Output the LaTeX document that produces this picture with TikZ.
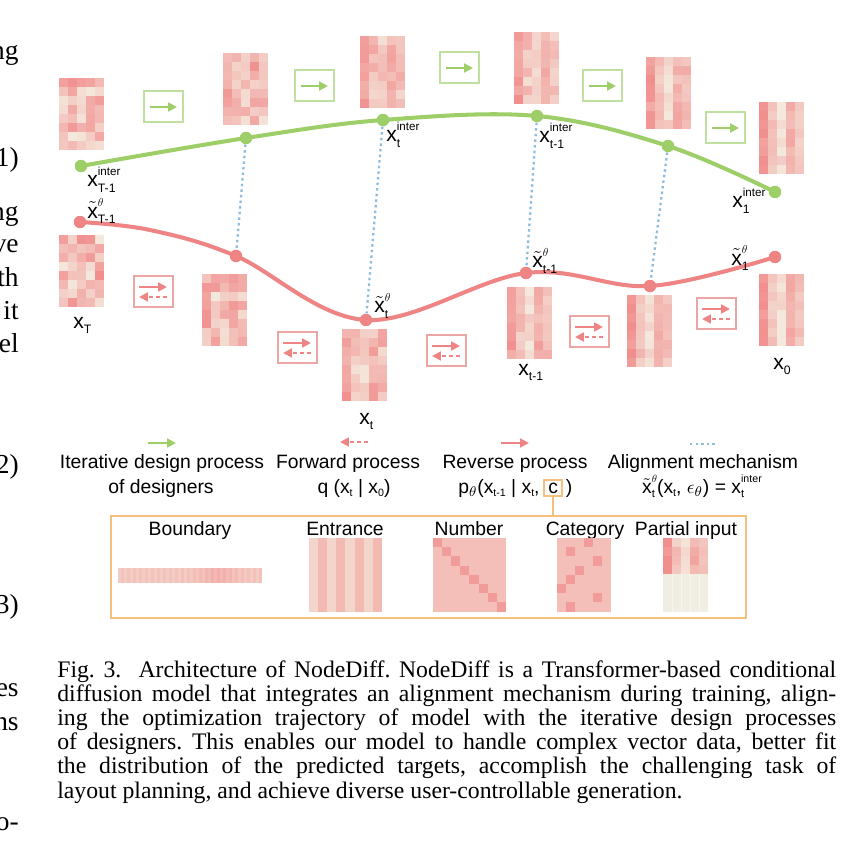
\documentclass[tikz,border=0pt]{standalone}
\usepackage{fontspec}
\setmainfont{Liberation Sans}
\newfontfamily\capfont{Liberation Serif}
\usepackage{amsmath}
\usepackage{graphicx}
\usetikzlibrary{arrows.meta, positioning}
\definecolor{Leaf}{RGB}{158,206,104}
\definecolor{LeafPale}{RGB}{192,224,160}
\definecolor{Salmon}{RGB}{238,132,132}
\definecolor{SalmonPale}{RGB}{236,165,165}
\definecolor{Sky}{RGB}{140,188,222}
\definecolor{Amber}{RGB}{245,192,125}
\definecolor{CellDark}{RGB}{241,142,142}
\definecolor{CellLight}{RGB}{244,231,219}
\definecolor{Cream}{RGB}{240,238,226}

% x con superindice y subindice apilados
\newsavebox{\supbox}
\newsavebox{\subbox}
\newcommand{\xsym}[3]{#1%
  \sbox{\supbox}{\scalebox{0.55}{#2}}\sbox{\subbox}{\scalebox{0.58}{#3}}%
  \ifdim\wd\supbox>\wd\subbox \wd\subbox=\wd\supbox\fi
  \rlap{\raisebox{1.0ex}{\usebox{\supbox}}}\raisebox{-0.45ex}{\usebox{\subbox}}}
\newcommand{\xtil}{$\tilde{\text{x}}$}
\newcommand{\lsub}[1]{\raisebox{-0.35ex}{\scalebox{0.55}{#1}}}

% matriz de celdas rosas: x, y (esquina superior izquierda), ruido, filas
\newcommand{\noisemat}[4]{%
  \foreach \cl in {0,...,4}{
    \foreach \rw in {1,...,#4}{
      \pgfmathsetmacro{\lv}{max(0,min(100,(1-#3)*{100,38,6,62,42}[\cl]+#3*rnd*100+(rnd-0.5)*30))}
      \fill[CellDark!\lv!CellLight] ({#1+9*\cl},{#2+9*(\rw-1)}) rectangle ++(9,9);
    }
  }
}
% caja del proceso iterativo (flecha verde)
\newcommand{\iterbox}[2]{%
  \draw[box_green] (#1,#2) rectangle ++(39,31);
  \draw[arr_green] ({#1+6},{#2+16}) -- ++(27,0);
}
% caja de ida y vuelta (flechas rojas)
\newcommand{\diffbox}[2]{%
  \draw[box_red] (#1,#2) rectangle ++(39,31);
  \draw[arr_red] ({#1+5},{#2+11}) -- ++(28,0);
  \draw[arr_red, dash pattern=on 2.5pt off 1.5pt] ({#1+33},{#2+21}) -- ++(-28,0);
}

\begin{document}
\begin{tikzpicture}[x=0.02cm, y=-0.02cm,
    traj_green/.style={draw=Leaf, line width=2.3pt, line cap=round},
    traj_red/.style={draw=Salmon, line width=2.3pt, line cap=round},
    dot_green/.style={circle, fill=Leaf, inner sep=0pt, minimum size=0.25cm},
    dot_red/.style={circle, fill=Salmon, inner sep=0pt, minimum size=0.25cm},
    align_line/.style={draw=Sky, line width=1.3pt, dash pattern=on 1.4pt off 1.8pt},
    box_green/.style={draw=LeafPale, line width=0.6pt},
    box_red/.style={draw=SalmonPale, line width=0.6pt},
    arr_green/.style={draw=Leaf, line width=1.2pt, -{Triangle[length=5pt, width=5pt]}},
    arr_red/.style={draw=Salmon, line width=1.1pt, -{Triangle[length=5pt, width=5pt]}},
    lab/.style={inner sep=0pt, anchor=base west, font=\fontsize{12}{13}\selectfont},
    legend_txt/.style={inner sep=0pt, anchor=base, font=\fontsize{11}{13}\selectfont},
    cfg_box/.style={draw=Amber, line width=1.1pt},
    frag/.style={inner sep=0pt, anchor=base east, font=\capfont\fontsize{15.6}{18}\selectfont}
  ]
  \useasboundingbox (0,0) rectangle (863,848);
  \pgfmathsetseed{11}

  % Matrices de la trayectoria superior (diseñadores)
  \noisemat{59}{78}{1}{8}
  \noisemat{223}{53}{0.55}{8}
  \noisemat{360}{36}{0.45}{8}
  \noisemat{514}{32}{0.35}{8}
  \noisemat{646}{57}{0.2}{8}
  \noisemat{759}{102}{0.1}{8}
  % Matrices de la trayectoria inferior (difusion)
  \noisemat{59}{235}{1}{8}
  \noisemat{202}{274}{0.8}{8}
  \noisemat{342}{329}{0.45}{8}
  \noisemat{507}{287}{0.3}{8}
  \noisemat{627}{295}{0.15}{8}
  \noisemat{759}{274}{0.05}{8}

  % Cajas con flechas
  \iterbox{144}{91}
  \iterbox{295}{70}
  \iterbox{440}{52}
  \iterbox{583}{70}
  \iterbox{706}{112}
  \diffbox{134}{276}
  \diffbox{278}{332}
  \diffbox{427}{335}
  \diffbox{570}{316}
  \diffbox{697}{298}

  % Trayectorias
  \coordinate (g1) at (81,166);
  \coordinate (g2) at (246,138);
  \coordinate (g3) at (383,120);
  \coordinate (g4) at (537,116);
  \coordinate (g5) at (668,146);
  \coordinate (g6) at (775,192);
  \coordinate (r1) at (80,222);
  \coordinate (rbend) at (150,230);
  \coordinate (r2) at (236,256);
  \coordinate (r3) at (366,320);
  \coordinate (r4) at (526,273);
  \coordinate (r5) at (650,286);
  \coordinate (r6) at (775,257);
  \draw[traj_green] plot[smooth, tension=0.6] coordinates {(g1) (g2) (g3) (g4) (g5) (g6)};
  \draw[traj_red] plot[smooth, tension=0.6] coordinates {(r1) (rbend) (r2) (r3) (r4) (r5) (r6)};
  \foreach \k in {1,...,6}{
    \node[dot_green] (gd\k) at (g\k) {};
    \node[dot_red] (rd\k) at (r\k) {};
  }
  % Mecanismo de alineamiento
  \foreach \k in {2,...,5}{
    \draw[align_line] (gd\k) -- (rd\k);
  }

  % Etiquetas de los estados
  \node[lab] (xi_T1) at (87,187) {\xsym{x}{inter}{T-1}};
  \node[lab] (xi_t) at (386,142) {\xsym{x}{inter}{t}};
  \node[lab] (xi_t1) at (539,143) {\xsym{x}{inter}{t-1}};
  \node[lab] (xi_1) at (732,208) {\xsym{x}{inter}{1}};
  \node[lab] (xs_T1) at (87,218) {\xsym{\xtil}{$\theta$}{T-1}};
  \node[lab] (xs_t) at (374,313) {\xsym{\xtil}{$\theta$}{t}};
  \node[lab] (xs_t1) at (532,268) {\xsym{\xtil}{$\theta$}{t-1}};
  \node[lab] (xs_1) at (731,265) {\xsym{\xtil}{$\theta$}{1}};
  \node[lab] (x_T) at (73,328) {\xsym{x}{}{T}};
  \node[lab] (x_t) at (359,424) {\xsym{x}{}{t}};
  \node[lab] (x_t1) at (518,375) {\xsym{x}{}{t-1}};
  \node[lab] (x_0) at (773,369) {\xsym{x}{}{0}};

  % Leyenda
  \draw[arr_green] (148,443) -- (176,443);
  \draw[arr_red, dash pattern=on 2.5pt off 1.5pt] (368,442) -- (340,442);
  \draw[arr_red] (501,443) -- (529,443);
  \draw[align_line] (690,444) -- (716,444);
  \node[legend_txt] (leg_iter) at (162,468) {Iterative design process};
  \node[legend_txt] (leg_iter2) at (161,493) {of designers};
  \node[legend_txt] (leg_fwd) at (348,468) {Forward process};
  \node[legend_txt] (leg_fwd2) at (354,493) {q (x\lsub{t} | x\lsub{0})};
  \node[legend_txt] (leg_rev) at (515,468) {Reverse process};
  \node[legend_txt, anchor=base west] (pth) at (458,493) {p$_\theta$(x\lsub{t-1} | x\lsub{t},};
  \node[draw=Amber, line width=1.1pt, inner xsep=2.2pt, inner ysep=1.6pt, font=\fontsize{11}{13}\selectfont, base right=2pt of pth] (cbox) {c};
  \node[legend_txt, base right=1.5pt of cbox] (rpar) {)};
  \node[legend_txt] (leg_align) at (703,468) {Alignment mechanism};
  \node[legend_txt] (leg_align2) at (702,493) {\xsym{\xtil}{$\theta$}{t}(x\lsub{t}, $\epsilon_\theta$) = \xsym{x}{inter}{t}};

  % Condiciones
  \node[cfg_box, minimum width=12.7cm, minimum height=2.04cm, anchor=north west] (cfg) at (110,515) {};
  \draw[cfg_box] (cbox.south) -- (cbox.south |- cfg.north);
  \node[legend_txt] (c_bound) at (190,535) {Boundary};
  \node[legend_txt] (c_ent) at (345,535) {Entrance};
  \node[legend_txt] (c_num) at (469,535) {Number};
  \node[legend_txt] (c_cat) at (585,535) {Category};
  \node[legend_txt] (c_part) at (686,535) {Partial input};
  % Boundary
  \foreach \k in {0,...,47}{
    \pgfmathsetmacro{\lv}{30+12*mod(\k,2)+22*exp(-((\k-33)/6)^2)}
    \fill[CellDark!\lv!CellLight] ({118+3*\k},568) rectangle ++(3,15);
  }
  % Entrance
  \foreach \k in {0,...,7}{
    \pgfmathsetmacro{\lv}{mod(\k,2)==0 ? 20 : 52}
    \fill[CellDark!\lv!CellLight] ({309+9.1*\k},538) rectangle ++(9.1,74);
  }
  % Number
  \fill[CellDark!45!CellLight] (433,538) rectangle ++(73,74);
  \foreach \k in {0,...,7}{
    \fill[CellDark!85!CellLight] ({433+9.1*\k},{538+9.2*\k}) rectangle ++(9.1,9.2);
  }
  % Category
  \fill[CellDark!45!CellLight] (557,538) rectangle ++(54,74);
  \foreach \cl/\rw in {3/0, 1/1, 4/2, 2/3, 1/4, 0/5, 4/6, 1/7}{
    \fill[CellDark!85!CellLight] ({557+9*\cl},{538+9.2*\rw}) rectangle ++(9,9.2);
  }
  % Partial input
  \noisemat{663}{538}{0.15}{4}
  \fill[Cream] (663,574) rectangle ++(45,38);
  \foreach \k in {1,...,4}{
    \draw[Cream!60!white, line width=0.3pt] ({663+9*\k},574) -- ++(0,38);
  }

  % Pie de figura
  \node[anchor=north west, inner sep=0pt, text width=15.58cm, align=justify,
        font=\capfont\fontsize{13.5}{13.77}\selectfont] (caption) at (57,660)
    {\frenchspacing Fig. 3.\ \ Architecture of NodeDiff. NodeDiff is a Transformer-based conditional\linebreak
     diffusion model that integrates an alignment mechanism during training, align-\linebreak
     ing the optimization trajectory of model with the iterative design processes\linebreak
     of designers. This enables our model to handle complex vector data, better fit\linebreak
     the distribution of the predicted targets, accomplish the challenging task of\linebreak
     layout planning, and achieve diverse user-controllable generation.};

  % Fragmentos de la columna vecina
  \foreach \yy/\txt [count=\n] in {60/ng, 167/1), 220/ng, 253/ve, 286/th, 319/it, 352/el, 473/2), 613/3), 696/es, 730/ns, 830/o-}{
    \node[frag] (frag\n) at (19,\yy) {\txt};
  }
\end{tikzpicture}
\end{document}
